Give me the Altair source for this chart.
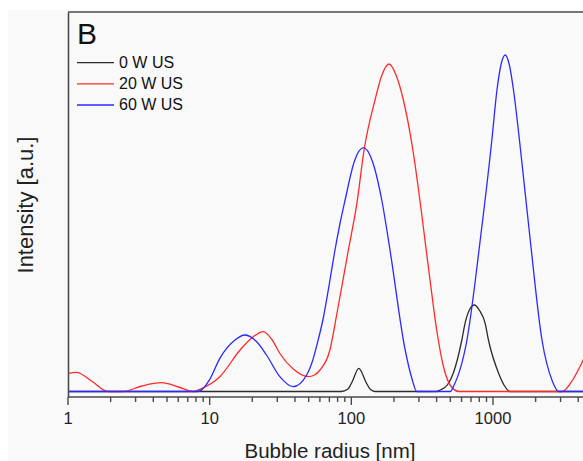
import altair as alt
import pandas as pd

# ---- data (x: bubble radius in nm, y: intensity in a.u.) ----
series_names = ["0 W US", "20 W US", "60 W US"]
series_colors = ["#2b2b2b", "#ff2a2a", "#2a2aff"]

black_r = [1, 60, 85, 94.2, 101, 113, 127, 136, 147, 200, 398, 424, 479, 525, 603, 635, 684,
           738, 804, 881, 929, 1094, 1202, 1318, 1800, 5000]
black_v = [0, 0, 0, 2.2, 9.3, 23.2, 9.3, 2.2, 0, 0, 0, 1.5, 7, 18.5, 51.5, 68.2, 82,
           86.5, 81, 68.2, 51.5, 18.5, 6, 0, 0, 0]

red_r = [1, 1.146, 1.48, 1.92, 2.45, 3.31, 4.57, 6.03, 7.64, 8.51, 11.8, 16.4, 20,
         23.9, 27.5, 31.3, 38.9, 49.7, 55, 60.1, 70.6, 78.9, 95.3, 109.6, 123, 147, 164, 184.5,
         207.5, 233, 272, 309, 332, 359, 402, 447, 501, 575, 800, 3069, 3631, 4335, 5000]
red_v = [18.2, 19.2, 10, 0, 0, 5.5, 8.8, 4.5, 0, 2.2, 14.8, 41.5, 54,
         59.8, 52, 38, 22.5, 14.8, 16.5, 21.5, 41.5, 77, 141.5, 188.6, 241.5, 291.5, 316, 327.5,
         316, 291.5, 241.5, 185, 150, 112, 60, 25, 6, 0, 0, 0, 11, 31.5, 50]

blue_r = [1, 7.9, 8.5, 10, 11.8, 15.1, 17.7, 21.4, 25.2, 31.3, 38.9, 48.4, 52.5, 57.5,
          63.1, 70.8, 76.7, 83.2, 90.4, 105, 121.6, 141, 164, 187.5, 240, 269, 290, 400, 501, 525, 655,
          813, 982, 1067, 1140, 1219, 1303, 1396, 1538, 1832, 2218, 2630, 2904, 3500, 5000]
blue_v = [0, 0, 0.5, 12, 33.2, 51.5, 56.5, 50, 36.5, 14.8, 4.8, 16.5, 28, 48,
          72, 112, 141.5, 168, 191.5, 230, 243.8, 230, 191.5, 141.5, 41.5, 12, 0, 0, 0, 4.8, 51.5,
          151.5, 251.5, 301.5, 327, 336.5, 327, 301.5, 251.5, 151.5, 51.5, 10, 0, 0, 0]

major_ticks = [1, 10, 100, 1000]
major_labels = ["1", "10", "100", "1000"]
minor_ticks = [2, 3, 4, 5, 6, 7, 8, 9, 20, 30, 40, 50, 60, 70, 80, 90,
               200, 300, 400, 500, 600, 700, 800, 900, 2000, 3000, 4000]
x_title = "Bubble radius [nm]"
y_title = "Intensity [a.u.]"

W, H = 515, 385
FONT = "Liberation Sans"
AXIS_COL = "#4a4a4a"
TEXT_COL = "#222222"

x_scale = alt.Scale(type="log", domain=[1, 4320])
y_scale = alt.Scale(domain=[-5.5, 379.5])

y_axis = alt.Axis(
    ticks=False, labels=False, grid=False,
    domainColor=AXIS_COL, domainWidth=1.6,
    title=y_title, titleFont=FONT, titleFontSize=22,
    titleFontWeight="normal", titleColor=TEXT_COL,
    titleX=-36, titleY=H / 2, titleAngle=270, titleAlign="center",
    titleBaseline="alphabetic",
    zindex=2,
)

one = alt.Data(values=[{}])

bg = alt.Chart(one).mark_rect(color="#f9f9f9", clip=False).encode(
    x=alt.value(-60), x2=alt.value(W), y=alt.value(-2), y2=alt.value(H + 64)
)


def line_layer(rs, vs, color, with_axes=False):
    df = pd.DataFrame({"r": rs, "v": vs})
    return alt.Chart(df).mark_line(
        clip=True, interpolate="monotone", strokeWidth=1.3, color=color
    ).encode(
        x=alt.X("r:Q", scale=x_scale, axis=None),
        y=alt.Y("v:Q", scale=y_scale, axis=y_axis if with_axes else None),
    )


black = line_layer(black_r, black_v, series_colors[0], with_axes=True)
red = line_layer(red_r, red_v, series_colors[1])
blue = line_layer(blue_r, blue_v, series_colors[2])

# bottom axis line and ticks, positioned through the x and y scales
axis_df = pd.DataFrame({"a": [1], "b": [4320]})
frame = alt.Chart(axis_df).mark_rule(color=AXIS_COL, strokeWidth=1.6, clip=False).encode(
    x=alt.X("a:Q", scale=x_scale, axis=None), x2="b:Q",
    y=alt.Y(datum=-5.5, scale=y_scale, axis=None),
)
top_border = alt.Chart(one).mark_rule(color=AXIS_COL, strokeWidth=1.6, clip=False).encode(
    x=alt.value(0), x2=alt.value(W), y=alt.value(0)
)

major_df = pd.DataFrame({"t": major_ticks, "label": major_labels})
major = alt.Chart(major_df).mark_rule(color=AXIS_COL, strokeWidth=1.4, clip=False).encode(
    x=alt.X("t:Q", scale=x_scale, axis=None),
    y=alt.Y(datum=-5.5, scale=y_scale, axis=None), y2=alt.datum(-13.5),
)
minor_df = pd.DataFrame({"t": minor_ticks})
minor = alt.Chart(minor_df).mark_rule(color=AXIS_COL, strokeWidth=1.4, clip=False).encode(
    x=alt.X("t:Q", scale=x_scale, axis=None),
    y=alt.Y(datum=-5.5, scale=y_scale, axis=None), y2=alt.datum(-10.5),
)
major_text = alt.Chart(major_df).mark_text(
    align="center", baseline="middle", font=FONT, fontSize=16.5, color=TEXT_COL, clip=False
).encode(
    x=alt.X("t:Q", scale=x_scale, axis=None),
    y=alt.value(H + 22), text="label:N",
)
x_title_mark = alt.Chart(one).mark_text(
    align="center", baseline="alphabetic", font=FONT, fontSize=20.5, color=TEXT_COL
).encode(x=alt.value(262), y=alt.value(H + 61), text=alt.value(x_title))

legend_df = pd.DataFrame({"name": series_names, "color": series_colors})
leg_y = alt.Y("name:N", scale=alt.Scale(type="point", domain=series_names,
                                         range=[50.7, 93], padding=0), axis=None)
leg_lines = alt.Chart(legend_df).mark_rule(strokeWidth=1.3).encode(
    x=alt.value(9), x2=alt.value(46), y=leg_y,
    color=alt.Color("color:N", scale=None, legend=None),
)
leg_text = alt.Chart(legend_df).mark_text(
    align="left", baseline="middle", font=FONT, fontSize=16, color="#111111"
).encode(x=alt.value(51), y=leg_y, text="name:N")

panel_label = alt.Chart(one).mark_text(
    align="left", baseline="alphabetic", font=FONT, fontSize=30, color="#111111"
).encode(x=alt.value(9), y=alt.value(32.3), text=alt.value("B"))

chart = alt.layer(
    bg, black, red, blue, leg_lines, leg_text, panel_label,
    top_border, frame, major, minor, major_text, x_title_mark
).resolve_scale(y="independent").properties(
    width=W, height=H,
    autosize=alt.AutoSizeParams(type="none"),
    padding={"left": 68, "top": 12, "right": 0, "bottom": 64},
    background="white",
).configure_view(stroke=None)

chart.save("out.html", embed_options={"renderer": "svg", "actions": False})
